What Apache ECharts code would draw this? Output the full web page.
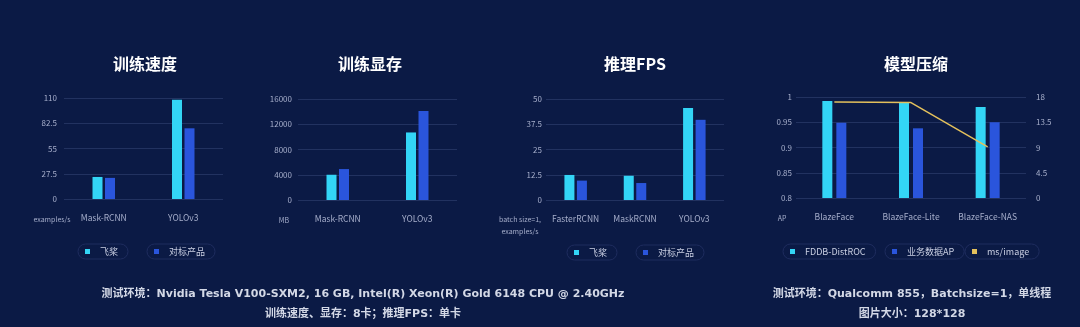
<!DOCTYPE html>
<html>
<head>
<meta charset="utf-8">
<script src="https://cdn.jsdelivr.net/npm/echarts@6/dist/echarts.min.js"></script>
<style>
  html, body { margin: 0; padding: 0; background: #0b1a45; }
  #chart { width: 1080px; height: 327px; }
</style>
</head>
<body>
<div id="chart"></div>
<script>
// 训练速度 (examples/s)
const speedCats = ['Mask-RCNN', 'YOLOv3'];
const speedPaddle = [24, 108];
const speedOther = [23, 77];
const speedTicks = { min: 0, max: 110, interval: 27.5 };

// 训练显存 (MB)
const memCats = ['Mask-RCNN', 'YOLOv3'];
const memPaddle = [4000, 10700];
const memOther = [4900, 14100];
const memTicks = { min: 0, max: 16000, interval: 4000 };

// 推理FPS (batch size=1)
const fpsCats = ['FasterRCNN', 'MaskRCNN', 'YOLOv3'];
const fpsPaddle = [12.4, 12.0, 45.5];
const fpsOther = [9.6, 8.4, 39.7];
const fpsTicks = { min: 0, max: 50, interval: 12.5 };

// 模型压缩
const compCats = ['BlazeFace', 'BlazeFace-Lite', 'BlazeFace-NAS'];
const fddbRoc = [0.992, 0.988, 0.980];
const bizAp = [0.949, 0.938, 0.950];
const msPerImage = [17.1, 17.0, 9.1];
const apTicks = { min: 0.8, max: 1, interval: 0.05 };
const msTicks = { min: 0, max: 18, interval: 4.5 };

const FONT = '"Noto Sans CJK SC", "Noto Sans", sans-serif';
const FOOT_FONT = '"DejaVu Sans", "Noto Sans CJK SC", sans-serif';
const CYAN = '#33d5f6';
const BLUE = '#2a55dc';
const GOLD = '#e3c05c';
const GRID_LINE = '#223260';
const LABEL = '#a6aecb';

const chart = echarts.init(document.getElementById('chart'));

const grids = [
  { left: 64, width: 159, top: 98, height: 101 },
  { left: 298, width: 159, top: 99, height: 101 },
  { left: 546, width: 178, top: 99, height: 101 },
  { left: 796, width: 230, top: 97, height: 101 }
];

function catAxis(gridIndex, data) {
  return {
    type: 'category', gridIndex, data,
    axisLine: { show: false }, axisTick: { show: false },
    axisLabel: { color: LABEL, fontSize: 8.5, fontFamily: FONT, margin: 15, interval: 0 }
  };
}

function valAxis(gridIndex, ticks, name, nameShift, labelMargin, extra) {
  return Object.assign({
    type: 'value', gridIndex,
    min: ticks.min, max: ticks.max, interval: ticks.interval,
    name, nameLocation: 'start', nameGap: 14, nameMoveOverlap: false,
    nameTextStyle: { color: LABEL, fontSize: 7, fontFamily: FONT, align: 'center',
      padding: [0, nameShift * 2, 0, 0], lineHeight: 12 },
    axisLine: { show: false }, axisTick: { show: false },
    axisLabel: { color: LABEL, fontSize: 8, fontFamily: FONT, margin: labelMargin,
      formatter: (v) => String(v) },
    splitLine: { lineStyle: { color: GRID_LINE, width: 1 } }
  }, extra || {});
}

function barSeries(name, color, xi, yi, data, barWidth, barGap) {
  return {
    type: 'bar', name, xAxisIndex: xi, yAxisIndex: yi, data,
    barWidth, barGap, itemStyle: { color }
  };
}

function pill(name, left, top) {
  return {
    data: [name], left, top,
    orient: 'horizontal',
    icon: 'rect', itemWidth: 5, itemHeight: 5,
    padding: [3, 10, 3, 7],
    borderColor: '#1e2c5e', borderWidth: 1, borderRadius: 9,
    textStyle: { color: '#c9cfe2', fontSize: 9, fontFamily: FONT, padding: [0, 0, 0, 5] }
  };
}

function title(text, x) {
  return {
    text, left: x, top: 51, textAlign: 'center',
    textStyle: { color: '#ffffff', fontSize: 16, fontWeight: 'bold', fontFamily: FONT }
  };
}

function footText(text, x, y) {
  return {
    type: 'text',
    style: { text, x, y, fill: '#d3d8e6', font: 'bold 11px ' + FOOT_FONT,
      textAlign: 'center', textVerticalAlign: 'middle' }
  };
}

const option = {
  backgroundColor: '#0b1a45',
  animation: false,
  title: [
    title('训练速度', 140),
    title('训练显存', 365),
    title('推理FPS', 630),
    title('模型压缩', 911)
  ],
  legend: [
    pill('飞桨', 78, 244),
    pill('对标产品', 147, 244),
    pill('飞桨', 567, 245),
    pill('对标产品', 636, 245),
    pill('FDDB-DistROC', 783, 244),
    pill('业务数据AP', 885, 244),
    pill('ms/image', 965, 244)
  ],
  grid: grids,
  xAxis: [
    catAxis(0, speedCats),
    catAxis(1, memCats),
    catAxis(2, fpsCats),
    catAxis(3, compCats)
  ],
  yAxis: [
    valAxis(0, speedTicks, 'examples/s', 12, 7),
    valAxis(1, memTicks, 'MB', 14, 6),
    valAxis(2, fpsTicks, 'batch size=1,\nexamples/s', 26, 4, { nameGap: 13 }),
    valAxis(3, apTicks, 'AP', 14, 4),
    valAxis(3, msTicks, '', 0, 10, { position: 'right', splitLine: { show: false } })
  ],
  series: [
    barSeries('飞桨', CYAN, 0, 0, speedPaddle, 10, '25%'),
    barSeries('对标产品', BLUE, 0, 0, speedOther, 10, '25%'),
    barSeries('飞桨', CYAN, 1, 1, memPaddle, 10, '25%'),
    barSeries('对标产品', BLUE, 1, 1, memOther, 10, '25%'),
    barSeries('飞桨', CYAN, 2, 2, fpsPaddle, 10, '25%'),
    barSeries('对标产品', BLUE, 2, 2, fpsOther, 10, '25%'),
    barSeries('FDDB-DistROC', CYAN, 3, 3, fddbRoc, 10, '40%'),
    barSeries('业务数据AP', BLUE, 3, 3, bizAp, 10, '40%'),
    {
      type: 'line', name: 'ms/image', xAxisIndex: 3, yAxisIndex: 4,
      data: msPerImage, showSymbol: false, symbol: 'none',
      lineStyle: { color: GOLD, width: 1.5 }, itemStyle: { color: GOLD }
    }
  ],
  graphic: [
    footText('测试环境：Nvidia Tesla V100-SXM2, 16 GB, Intel(R) Xeon(R) Gold 6148 CPU @ 2.40GHz', 363, 294),
    footText('训练速度、显存：8卡；推理FPS：单卡', 363, 314),
    footText('测试环境：Qualcomm 855，Batchsize=1，单线程', 912, 294),
    footText('图片大小：128*128', 912, 314)
  ]
};

chart.setOption(option);
</script>
</body>
</html>
